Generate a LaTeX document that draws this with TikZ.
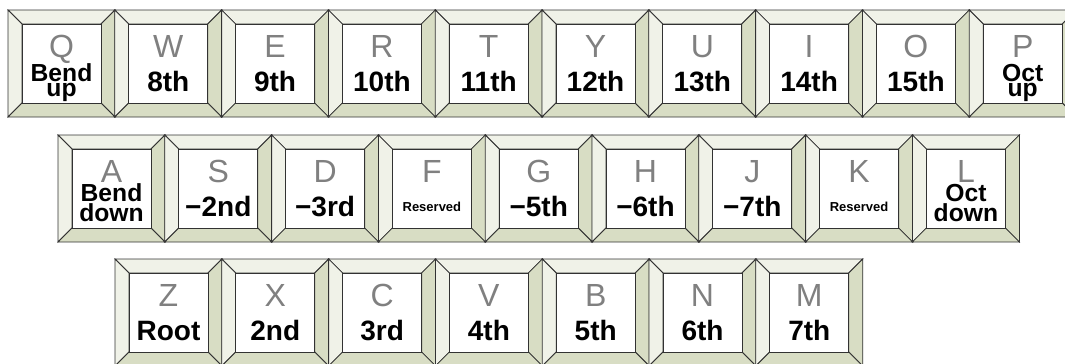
\documentclass[tikz,border=0pt]{standalone}
\usepackage{fontspec}
\setsansfont{Liberation Sans}
\usepackage{xcolor}
\definecolor{capLight}{RGB}{240, 242, 232}
\definecolor{capDark} {RGB}{216, 221, 196}
\definecolor{capFace} {RGB}{255, 255, 255}
\definecolor{capEdge} {RGB}{ 50,  50,  50}
\definecolor{capGlyph}{RGB}{128, 128, 128}
\usepackage{tikz}
\usetikzlibrary{positioning}

% one keycap: bevels, face, letter and function label
\newcommand{\keycap}[5]{% x, y, letter, label, label style
  \draw[bevlight] (#1,#2) -- ++(107,0) -- ++(-14,14) -- ++(-79,0) -- cycle;
  \draw[bevlight] (#1,#2) -- ++(14,14) -- ++(0,79) -- ++(-14,14) -- cycle;
  \draw[bevdark]  (#1+107,#2) -- ++(0,107) -- ++(-14,-14) -- ++(0,-79) -- cycle;
  \draw[bevdark]  (#1,#2+107) -- ++(107,0) -- ++(-14,-14) -- ++(-79,0) -- cycle;
  \draw[capface]  (#1+14,#2+14) rectangle ++(79,79);
  \node[keyletter] (key-#3) at (#1+53.5,#2+47) {#3};
  \node[#5]        (lbl-#3) at (#1+53.5,#2+81) {#4};
}

\begin{document}
\begin{tikzpicture}[
  x=0.75pt, y=-0.75pt,
  bevlight/.style={draw=capEdge, line width=0.6pt, fill=capLight},
  bevdark/.style ={draw=capEdge, line width=0.6pt, fill=capDark},
  capface/.style ={draw=capEdge, line width=0.6pt, fill=capFace},
  keyletter/.style={font=\fontsize{24}{24}\sffamily, text=capGlyph,
                    anchor=base, inner sep=0pt},
  lblone/.style  ={font=\fontsize{21}{21}\sffamily\bfseries, text=black,
                   anchor=base, inner sep=0pt},
  lbltwo/.style  ={font=\fontsize{18.5}{10}\sffamily\bfseries, text=black,
                   anchor=base, inner sep=0pt, align=center, yshift=-4pt},
  lblsmall/.style={font=\fontsize{9.75}{9.75}\sffamily\bfseries, text=black,
                   anchor=base, inner sep=0pt, yshift=3.75pt},
]
  \useasboundingbox (0,0) rectangle (1065,364);
  \clip (0,0) rectangle (1065,364);

  % top row
  \foreach \lt/\lb/\st [count=\i from 0] in {
      Q/{Bend\\up}/lbltwo, W/8th/lblone, E/9th/lblone, R/10th/lblone,
      T/11th/lblone, Y/12th/lblone, U/13th/lblone, I/14th/lblone,
      O/15th/lblone, P/{Oct\\up}/lbltwo}
    {\pgfmathsetmacro\kx{8+106.8*\i}
     \keycap{\kx}{10}{\lt}{\lb}{\st}}

  % home row
  \foreach \lt/\lb/\st [count=\i from 0] in {
      A/{Bend\\down}/lbltwo, S/−2nd/lblone, D/−3rd/lblone,
      F/Reserved/lblsmall, G/−5th/lblone, H/−6th/lblone,
      J/−7th/lblone, K/Reserved/lblsmall, L/{Oct\\down}/lbltwo}
    {\pgfmathsetmacro\kx{58+106.8*\i}
     \keycap{\kx}{135}{\lt}{\lb}{\st}}

  % bottom row
  \foreach \lt/\lb/\st [count=\i from 0] in {
      Z/Root/lblone, X/2nd/lblone, C/3rd/lblone, V/4th/lblone,
      B/5th/lblone, N/6th/lblone, M/7th/lblone}
    {\pgfmathsetmacro\kx{115+106.8*\i}
     \keycap{\kx}{259}{\lt}{\lb}{\st}}

\end{tikzpicture}
\end{document}
